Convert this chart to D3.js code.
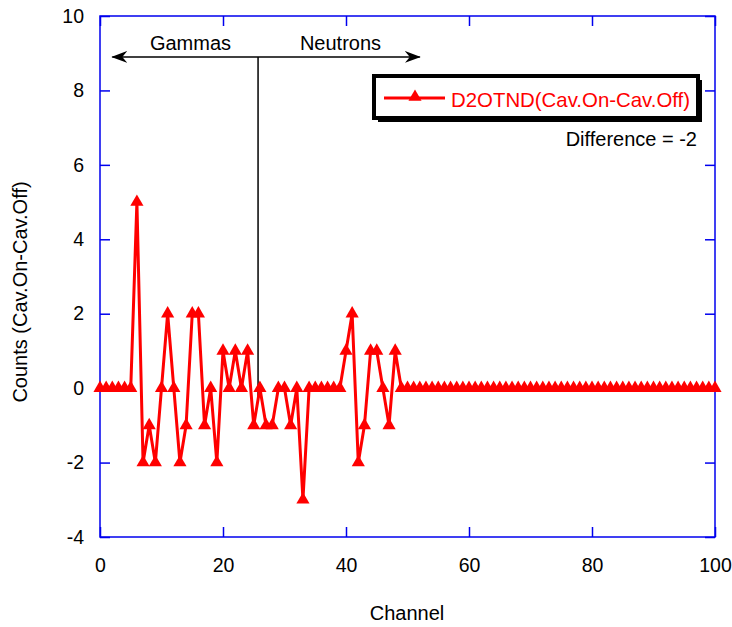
<!DOCTYPE html>
<html>
<head>
<meta charset="utf-8">
<script src="https://cdn.jsdelivr.net/npm/d3@7"></script>
<style>
  html, body { margin: 0; padding: 0; background: #fff; }
  svg { display: block; font-family: Arial, "Liberation Sans", sans-serif; }
</style>
</head>
<body>
<svg id="chart" width="732" height="627"></svg>
<script>
// Channel numbers 0..100 and the count difference (Cav.On - Cav.Off) per channel
const channels = d3.range(0, 101);
const counts = [
  0, 0, 0, 0, 0, 0, 5, -2, -1, -2,
  0, 2, 0, -2, -1, 2, 2, -1, 0, -2,
  1, 0, 1, 0, 1, -1, 0, -1, -1, 0,
  0, -1, 0, -3, 0, 0, 0, 0, 0, 0,
  1, 2, -2, -1, 1, 1, 0, -1, 1, 0,
  0, 0, 0, 0, 0, 0, 0, 0, 0, 0,
  0, 0, 0, 0, 0, 0, 0, 0, 0, 0,
  0, 0, 0, 0, 0, 0, 0, 0, 0, 0,
  0, 0, 0, 0, 0, 0, 0, 0, 0, 0,
  0, 0, 0, 0, 0, 0, 0, 0, 0, 0,
  0
];
const xTicks = [0, 20, 40, 60, 80, 100];
const yTicks = [-4, -2, 0, 2, 4, 6, 8, 10];
const seriesName = "D2OTND(Cav.On-Cav.Off)";
const differenceText = "Difference = -2";
// Gamma / neutron split marker and arrow extents (channel, counts)
const splitChannel = 25.7;
const arrowRange = [2, 52];
const arrowLevel = 8.9;
const splitBottom = -0.25;

const svg = d3.select("#chart");
const m = { left: 100, right: 715, top: 16, bottom: 537 };

const x = d3.scaleLinear().domain([0, 100]).range([m.left, m.right]);
const y = d3.scaleLinear().domain([-4, 10]).range([m.bottom, m.top]);

const blue = "#0000ee";
const tickLen = 10;
const plain = d => String(d);   // hyphen-minus for negative labels

// Axes with inward ticks on all four sides
const axisStyle = g => {
  g.select(".domain").remove();
  g.selectAll(".tick line").attr("stroke", blue).attr("stroke-width", 1.5);
  g.selectAll(".tick text").attr("fill", "#000").attr("font-size", 19.5)
    .attr("font-family", "Arial, 'Liberation Sans', sans-serif");
};

svg.append("g").attr("transform", `translate(0,${m.bottom})`)
  .call(d3.axisBottom(x).tickValues(xTicks).tickFormat(plain)
    .tickSizeInner(-tickLen).tickSizeOuter(0).tickPadding(21))
  .call(axisStyle);
svg.append("g").attr("transform", `translate(0,${m.top})`)
  .call(d3.axisTop(x).tickValues(xTicks).tickSizeInner(-tickLen).tickSizeOuter(0).tickFormat(""))
  .call(axisStyle);
svg.append("g").attr("transform", `translate(${m.left},0)`)
  .call(d3.axisLeft(y).tickValues(yTicks).tickFormat(plain)
    .tickSizeInner(-tickLen).tickSizeOuter(0).tickPadding(16))
  .call(axisStyle);
svg.append("g").attr("transform", `translate(${m.right},0)`)
  .call(d3.axisRight(y).tickValues(yTicks).tickSizeInner(-tickLen).tickSizeOuter(0).tickFormat(""))
  .call(axisStyle);

// Frame
svg.append("rect")
  .attr("x", m.left).attr("y", m.top)
  .attr("width", m.right - m.left).attr("height", m.bottom - m.top)
  .attr("fill", "none").attr("stroke", blue).attr("stroke-width", 1.5);

// Axis titles
svg.append("text")
  .attr("x", 407).attr("y", 620)
  .attr("text-anchor", "middle").attr("font-size", 20)
  .text("Channel");
svg.append("text")
  .attr("transform", `translate(27,292) rotate(-90)`)
  .attr("text-anchor", "middle").attr("font-size", 20)
  .text("Counts (Cav.On-Cav.Off)");

// Gamma / neutron annotation
const defs = svg.append("defs");
defs.append("marker")
  .attr("id", "arrowHead")
  .attr("viewBox", "0 0 16 12")
  .attr("refX", 15).attr("refY", 6)
  .attr("markerWidth", 16).attr("markerHeight", 12)
  .attr("markerUnits", "userSpaceOnUse")
  .attr("orient", "auto-start-reverse")
  .append("path")
  .attr("d", "M0,0 L16,6 L0,12 L5,6 Z")
  .attr("fill", "#000");

svg.append("line")
  .attr("x1", x(arrowRange[0])).attr("x2", x(arrowRange[1]))
  .attr("y1", y(arrowLevel)).attr("y2", y(arrowLevel))
  .attr("stroke", "#000").attr("stroke-width", 1.5)
  .attr("marker-start", "url(#arrowHead)")
  .attr("marker-end", "url(#arrowHead)");
svg.append("line")
  .attr("x1", x(splitChannel)).attr("x2", x(splitChannel))
  .attr("y1", y(arrowLevel)).attr("y2", y(splitBottom))
  .attr("stroke", "#000").attr("stroke-width", 1.5);
svg.append("text")
  .attr("x", 190.5).attr("y", 50).attr("text-anchor", "middle")
  .attr("font-size", 20).text("Gammas");
svg.append("text")
  .attr("x", 340.5).attr("y", 50).attr("text-anchor", "middle")
  .attr("font-size", 20).text("Neutrons");

// Data series
const red = "#ff0000";
const pts = channels.map((c, i) => ({ c, v: counts[i] }));
svg.append("path")
  .datum(pts)
  .attr("fill", "none").attr("stroke", red).attr("stroke-width", 3)
  .attr("stroke-linejoin", "miter")
  .attr("d", d3.line().x(d => x(d.c)).y(d => y(d.v)));

const tri = d3.symbol().type(d3.symbolTriangle).size(75);
svg.append("g").selectAll("path")
  .data(pts).join("path")
  .attr("transform", d => `translate(${x(d.c)},${y(d.v)})`)
  .attr("d", tri).attr("fill", red);

// Legend
const lg = { x: 374, y: 76, w: 324, h: 42 };
svg.append("rect")
  .attr("x", lg.x + 4).attr("y", lg.y + 4).attr("width", lg.w).attr("height", lg.h)
  .attr("fill", "#000");
svg.append("rect")
  .attr("x", lg.x).attr("y", lg.y).attr("width", lg.w).attr("height", lg.h)
  .attr("fill", "#fff").attr("stroke", "#000").attr("stroke-width", 4);
svg.append("line")
  .attr("x1", 384).attr("x2", 445).attr("y1", 98).attr("y2", 98)
  .attr("stroke", red).attr("stroke-width", 3);
svg.append("path")
  .attr("transform", "translate(415,97)")
  .attr("d", tri).attr("fill", red);
svg.append("text")
  .attr("x", 451).attr("y", 107)
  .attr("font-size", 20.4).attr("fill", red)
  .text(seriesName);

svg.append("text")
  .attr("x", 697).attr("y", 146).attr("text-anchor", "end")
  .attr("font-size", 20).text(differenceText);
</script>
</body>
</html>
